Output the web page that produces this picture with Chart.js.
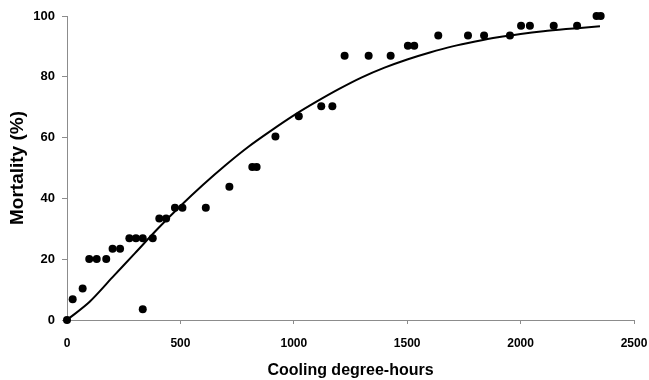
<!DOCTYPE html>
<html>
<head>
<meta charset="utf-8">
<script src="https://cdn.jsdelivr.net/npm/chart.js@4"></script>
<style>
  html, body { margin: 0; padding: 0; background: #fff; }
  #wrap { width: 649px; height: 380px; }
</style>
</head>
<body>
<div id="wrap"><canvas id="mortalityChart"></canvas></div>
<script>
// observed points
const obsX = [0, 25, 69, 98, 131, 173, 201, 234, 275, 304, 334, 334, 378, 407, 437, 476, 509, 612,
    716, 817, 836, 919, 1022, 1121, 1170, 1224, 1330, 1427, 1503, 1531,
    1637, 1768, 1839, 1953, 2002, 2041, 2146, 2249, 2335, 2353];
const obsY = [0, 6.8, 10.4, 20.1, 20.1, 20.1, 23.4, 23.4, 26.9, 26.9, 26.9, 3.5, 26.9, 33.4, 33.4, 36.9, 36.9, 36.9,
    43.8, 50.3, 50.3, 60.4, 67, 70.3, 70.3, 86.9, 86.9, 86.9, 90.2, 90.2,
    93.6, 93.6, 93.6, 93.6, 96.8, 96.8, 96.8, 96.8, 100, 100];

// fitted curve
const fitX = [0, 100, 200, 300, 400, 500, 600, 700, 800, 900, 1000, 1100, 1200, 1300, 1400, 1500,
    1600, 1700, 1800, 1900, 2000, 2100, 2200, 2300, 2350];
const fitY = [0, 6, 14, 22, 30, 37.5, 44.5, 51, 57, 62.3, 67.3, 71.8, 76, 79.8, 83, 85.7,
    88, 90, 91.6, 93, 94.1, 95, 95.7, 96.3, 96.6];

const xTicks = [0, 500, 1000, 1500, 2000, 2500];
const yTicks = [0, 20, 40, 60, 80, 100];

const toPoints = (xs, ys) => xs.map((x, i) => ({ x: x, y: ys[i] }));

const sans = "'Liberation Sans', Arial, sans-serif";
const axisGrey = '#8c8c8c';

const ctx = document.getElementById("mortalityChart").getContext("2d");
const chart = new Chart(ctx, {
    type: 'scatter',
    data: {
        datasets: [
            {
                label: 'Observed',
                data: toPoints(obsX, obsY),
                backgroundColor: '#000',
                borderWidth: 0,
                pointRadius: 4,
                clip: false
            },
            {
                label: 'Fitted',
                data: toPoints(fitX, fitY),
                showLine: true,
                borderColor: '#000',
                borderWidth: 2,
                pointRadius: 0,
                tension: 0.3,
                clip: false
            }
        ]
    },
    options: {
        responsive: true,
        maintainAspectRatio: false,
        animation: false,
        layout: {
            padding: { top: 16, right: 15, left: 0, bottom: 0 }
        },
        scales: {
            x: {
                type: 'linear',
                min: 0,
                max: 2500,
                afterFit: (scale) => {
                    scale.height = 60;
                    scale.paddingLeft = 0;
                    scale.paddingRight = 0;
                },
                afterBuildTicks: (scale) => { scale.ticks = xTicks.map(v => ({ value: v })); },
                grid: { drawOnChartArea: false, tickLength: 4, color: axisGrey },
                border: { color: axisGrey, width: 1 },
                ticks: {
                    color: '#000',
                    padding: 12,
                    maxRotation: 0,
                    callback: (v) => String(v),
                    font: { family: sans, size: 12, weight: 'bold' }
                },
                title: {
                    display: true,
                    text: 'Cooling degree-hours',
                    color: '#000',
                    padding: { top: 0, bottom: 0 },
                    font: { family: sans, size: 16, weight: 'bold' }
                }
            },
            y: {
                min: 0,
                max: 100,
                afterFit: (scale) => { scale.width = 67; },
                afterBuildTicks: (scale) => { scale.ticks = yTicks.map(v => ({ value: v })); },
                grid: { drawOnChartArea: false, tickLength: 5, color: axisGrey },
                border: { color: axisGrey, width: 1 },
                ticks: {
                    color: '#000',
                    padding: 7,
                    font: { family: sans, size: 13, weight: 'bold' }
                },
                title: {
                    display: true,
                    text: 'Mortality (%)',
                    color: '#000',
                    padding: { top: 6, bottom: 0 },
                    font: { family: sans, size: 19, weight: 'bold' }
                }
            }
        },
        plugins: {
            legend: { display: false },
            tooltip: { enabled: false }
        }
    }
});
</script>
</body>
</html>
